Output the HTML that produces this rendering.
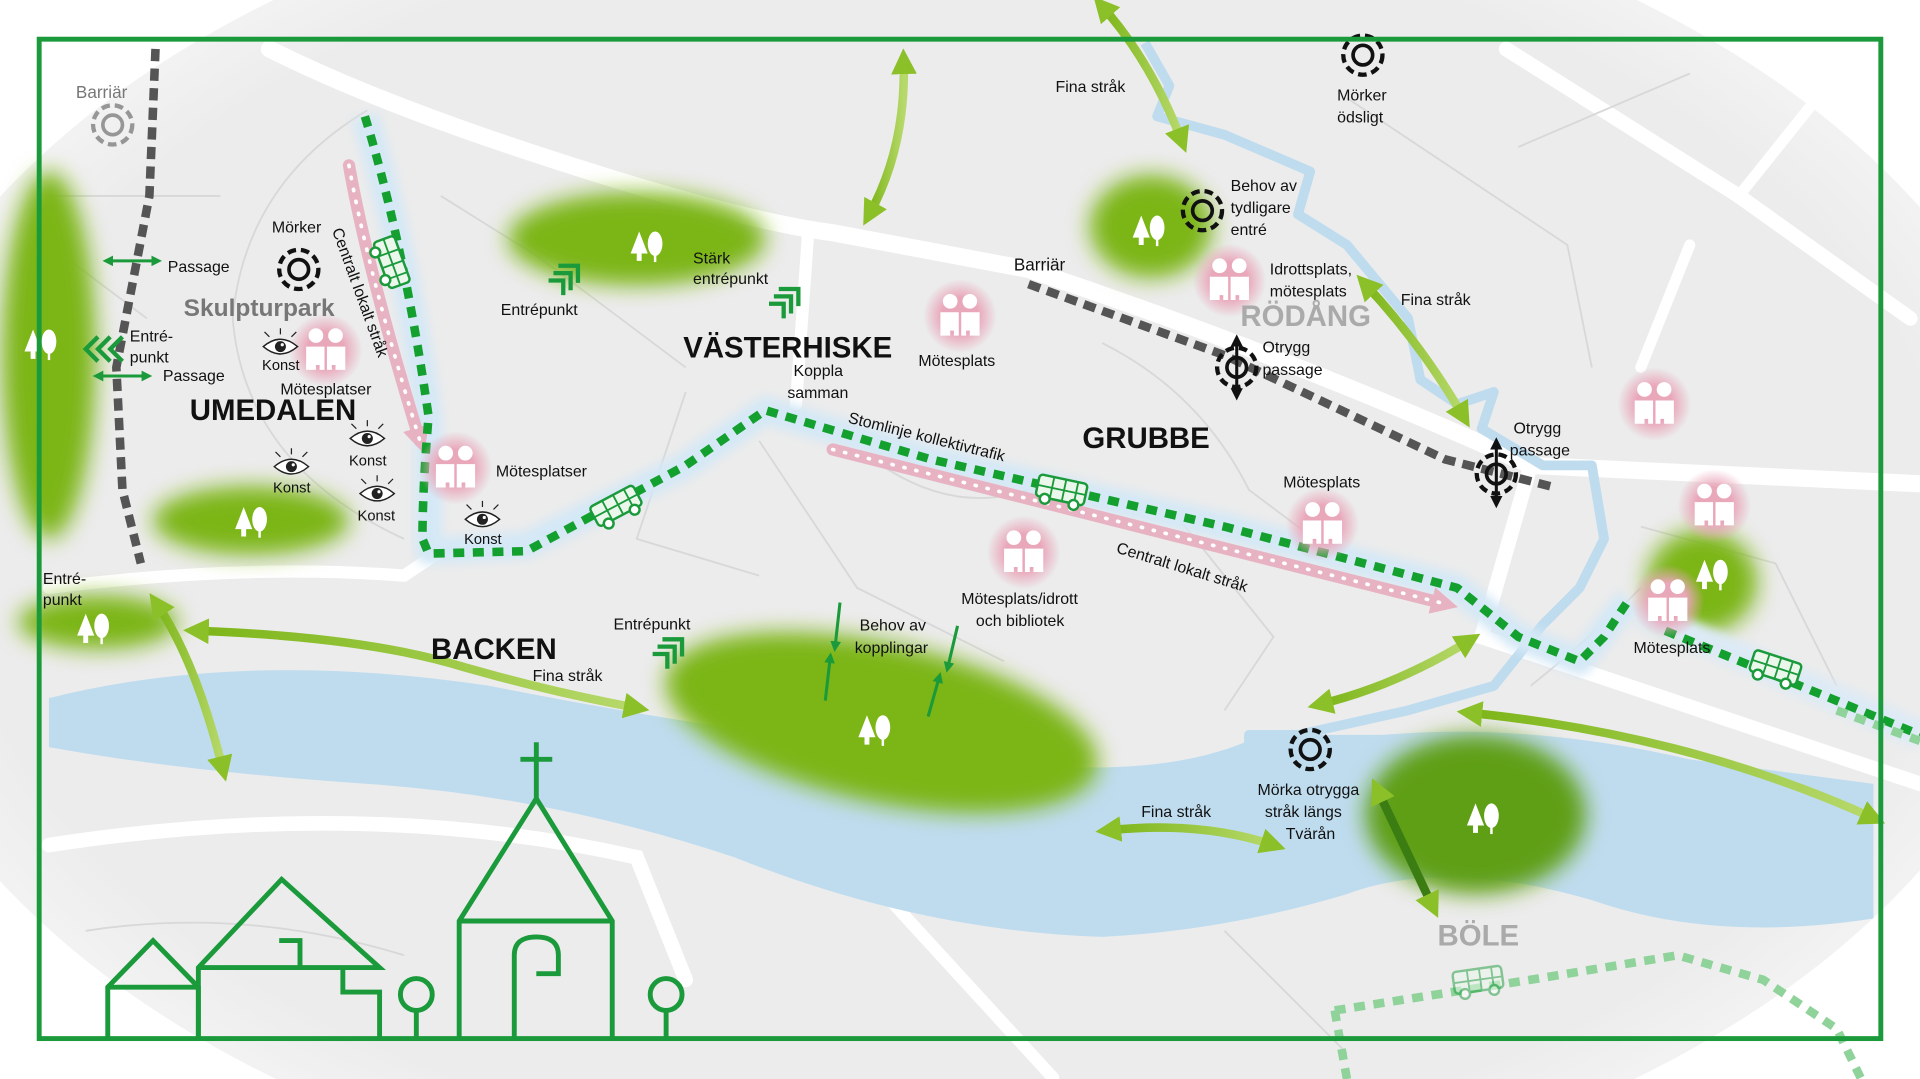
<!DOCTYPE html>
<html><head><meta charset="utf-8"><style>
html,body{margin:0;padding:0;background:#fff;overflow:hidden;width:1920px;height:1079px}
svg{display:block;position:absolute;left:0;top:0}
text{font-family:"Liberation Sans",sans-serif}
</style></head><body>
<svg width="1920" height="1079" viewBox="0 0 1568 881" preserveAspectRatio="none" xmlns="http://www.w3.org/2000/svg">
<defs>
<filter id="blur" x="-30%" y="-30%" width="160%" height="160%"><feGaussianBlur stdDeviation="9"/></filter>
<filter id="blur2" x="-30%" y="-30%" width="160%" height="160%"><feGaussianBlur stdDeviation="4"/></filter>
<radialGradient id="pink"><stop offset="0.5" stop-color="#e9a7ba"/><stop offset="1" stop-color="#e9a7ba" stop-opacity="0"/></radialGradient>
<radialGradient id="bg" cx="0.5" cy="0.5" r="0.6"><stop offset="0.75" stop-color="#ececec"/><stop offset="1" stop-color="#ffffff"/></radialGradient>
<g id="ppl"><circle r="30" fill="url(#pink)"/><circle cx="-8" cy="-12" r="6" fill="#fff"/><circle cx="8" cy="-12" r="6" fill="#fff"/><path d="M-16,-3 h15 v19 h-4 v-4 h-3 v4 h-8z M1,-3 h15 v19 h-8 v-4 h-3 v4 h-4z" fill="#fff"/></g>
<g id="eye"><path d="M-14,0 Q0,-12 14,0 Q0,12 -14,0z" fill="#fff" stroke="#222" stroke-width="1.2"/><circle r="4.5" fill="#222"/><circle cx="1.5" cy="-1.5" r="1.3" fill="#fff"/><path d="M0,-10 v-5 M-9,-8 l-4,-4 M9,-8 l4,-4" stroke="#222" stroke-width="1"/></g>
<g id="tgt"><circle r="16" fill="none" stroke="#111" stroke-width="3.5" stroke-dasharray="7 4"/><circle r="8" fill="none" stroke="#111" stroke-width="3"/></g>
<g id="tree" fill="#fff"><path d="M-8,-14 L-15,4 H-10 V10 H-6 V4 H-1z"/><ellipse cx="5" cy="-4" rx="6" ry="10"/><rect x="4" y="4" width="2" height="7"/></g>
<g id="bus"><rect x="-20" y="-9" width="40" height="18" rx="3" fill="#eaf7ea" stroke="#1a9a3a" stroke-width="2"/><path d="M-8,-9 v18 M2,-9 v18 M12,-9 v18 M-20,0 h40" stroke="#1a9a3a" stroke-width="1.5"/><circle cx="-12" cy="10" r="4" fill="#fff" stroke="#1a9a3a" stroke-width="2"/><circle cx="12" cy="10" r="4" fill="#fff" stroke="#1a9a3a" stroke-width="2"/></g>
<g id="chev" fill="none" stroke="#1a9a3a" stroke-width="3.5"><path d="M-12,-4 H0 V8 M-8,-10 H6 V4 M-4,-16 H12 V-2"/></g>
<linearGradient id="ga" x1="0" x2="1"><stop offset="0" stop-color="#7cb518"/><stop offset="1" stop-color="#b7d96b"/></linearGradient>
<marker id="ah" viewBox="0 0 10 10" refX="5" refY="5" markerWidth="3" markerHeight="3" orient="auto-start-reverse"><path d="M0,0 L10,5 L0,10z" fill="#8cc028"/></marker>
<marker id="ahd" viewBox="0 0 10 10" refX="5" refY="5" markerWidth="3.5" markerHeight="3.5" orient="auto-start-reverse"><path d="M0,0 L10,5 L0,10z" fill="#1a9a3a"/></marker>
<marker id="ahp" viewBox="0 0 10 10" refX="5" refY="5" markerWidth="2.2" markerHeight="2.2" orient="auto"><path d="M0,0 L10,5 L0,10z" fill="#e7b3c2"/></marker>
<marker id="ahb" viewBox="0 0 10 10" refX="5" refY="5" markerWidth="4" markerHeight="4" orient="auto-start-reverse"><path d="M0,0 L10,5 L0,10z" fill="#111"/></marker>
</defs>

<rect width="1568" height="881" fill="#fff"/>
<ellipse cx="780" cy="440" rx="900" ry="560" fill="url(#bg)"/>

<g fill="none" stroke="#fff" stroke-linecap="round">
<path d="M220,40 Q300,80 420,120 Q600,180 680,190 L840,220 Q1050,290 1250,380 L1568,395" stroke-width="14"/>
<path d="M1230,40 L1420,160 L1560,260" stroke-width="12"/>
<path d="M40,480 Q200,460 330,470 L360,450" stroke-width="10"/>
<path d="M660,190 L650,330" stroke-width="10"/>
<path d="M1250,380 L1210,520 L1568,640" stroke-width="12"/>
<path d="M40,690 Q300,650 520,700 L560,800" stroke-width="12"/>
<path d="M1380,200 L1340,300 M1420,160 L1500,60" stroke-width="9"/>
<path d="M640,640 L860,880" stroke-width="10"/>
</g>
<g fill="none" stroke="#d8d8d8" stroke-width="1.5">
<path d="M300,90 Q200,150 190,260 Q200,380 330,440"/><path d="M40,160 H180 M40,200 L120,260 M360,160 L440,210 L560,300"/>
<path d="M620,360 L700,480 L820,540 M720,380 Q780,420 840,400 M560,320 L520,440 L620,470"/>
<path d="M900,280 Q980,320 1020,400 L1100,460 M960,420 L1040,520 L1000,580"/>
<path d="M1100,80 L1280,200 L1300,300 M1240,120 L1380,60"/>
<path d="M1340,430 L1450,460 L1500,560 M1250,560 Q1300,520 1340,480"/>
<path d="M70,760 Q200,740 330,780 M760,700 L900,760 M1000,760 L1100,860"/>
</g>

<path d="M40,570 Q200,530 400,560 Q600,600 800,620 Q950,640 1030,600 L1130,600 Q1250,590 1380,620 L1530,640 L1530,750 Q1400,770 1300,735 Q1180,700 1100,730 Q1000,760 900,765 Q750,760 600,700 Q450,650 300,640 Q150,630 40,610z" fill="#bfdcef"/>
<g fill="none" stroke="#bfdcef" stroke-width="8" stroke-linejoin="round">
<path d="M935,35 L955,70 L945,95 L1000,110 L1070,140 L1060,175 L1100,200 L1150,260 L1160,310 L1190,330 L1220,320 L1210,350 L1260,380 L1300,380 L1310,440 L1290,480 L1260,510 L1220,560 L1150,580 L1060,600 L1020,600 L1020,640 L1050,680"/>
</g>

<g fill="#7cb518" filter="url(#blur)">
<ellipse cx="520" cy="195" rx="105" ry="38"/>
<ellipse cx="40" cy="290" rx="38" ry="150"/>
<ellipse cx="205" cy="425" rx="80" ry="28"/>
<ellipse cx="80" cy="508" rx="65" ry="22"/>
<ellipse cx="720" cy="590" rx="180" ry="65" transform="rotate(12 720 590)"/>
<ellipse cx="940" cy="185" rx="50" ry="42"/>
<ellipse cx="1390" cy="475" rx="45" ry="42"/>
<ellipse cx="1205" cy="665" rx="90" ry="65" fill="#5e9f12"/>
</g>

<g fill="none" stroke="#d4e8f6" stroke-width="22" stroke-linejoin="round" filter="url(#blur2)">
<path d="M298,95 Q330,200 350,340 L350,450 L430,445 L560,380 L625,335 L760,375 L1000,430 L1190,480 L1240,520 L1290,540 L1330,490"/>
<path d="M1340,500 L1568,600" stroke="#dceaf6"/>
</g>
<g fill="none" stroke="#e7b3c2" stroke-width="10" stroke-linecap="round">
<path d="M285,135 Q300,220 343,360" marker-end="url(#ahp)"/>
<path d="M680,367 L1180,493" marker-end="url(#ahp)"/>
<path d="M285,135 Q300,220 343,360 M680,367 L1180,493" stroke="#fff" stroke-width="3" stroke-dasharray="1 9"/>
</g>
<g fill="none" stroke="#14a02e" stroke-width="7" stroke-dasharray="9 7" stroke-linejoin="round">
<path d="M298,95 Q330,200 350,340 Q345,400 345,440 L350,452 L430,450 L560,380 L625,335 L760,375 L1000,430 L1190,480 L1240,520 L1290,540 L1310,520 L1330,490"/>
<path d="M1360,515 L1568,600" stroke="#14a02e"/>
<path d="M1500,580 L1568,605" stroke="#8fd39b"/>
<path d="M1090,825 L1250,800 L1370,780 L1440,800 L1500,840 L1520,881" stroke="#8fd39b"/>
<path d="M1090,825 L1100,881" stroke="#8fd39b"/>
</g>

<g fill="none" stroke="#555" stroke-width="7" stroke-dasharray="10 6">
<path d="M127,40 L122,160 L95,300 L100,400 L115,460"/>
<path d="M840,232 L1000,290 L1180,375 L1270,398"/>
</g>

<g fill="none" stroke="url(#ga)" stroke-width="7" stroke-linecap="round" marker-start="url(#ah)" marker-end="url(#ah)">
<path d="M738,50 Q740,120 710,175"/>
<path d="M900,5 Q940,50 965,115"/>
<path d="M1115,232 Q1160,280 1195,340"/>
<path d="M160,515 Q300,520 380,545 Q450,565 520,578"/>
<path d="M128,493 Q160,540 182,628"/>
<path d="M1200,523 Q1140,560 1078,575"/>
<path d="M905,678 Q980,670 1040,690"/>
<path d="M1200,582 Q1380,600 1530,668"/>
<path d="M1125,645 L1170,740" stroke="#3b7d12"/>
</g>
<g stroke="#1a9a3a" stroke-width="2.5" fill="none" marker-start="url(#ahd)" marker-end="url(#ahd)">
<path d="M88,213 H128"/><path d="M80,307 H120"/>
</g>
<g stroke="#1a9a3a" stroke-width="2.5" fill="none" marker-end="url(#ahd)">
<path d="M686,492 L682,528"/><path d="M674,572 L678,537"/><path d="M782,511 L774,545"/><path d="M758,585 L767,553"/>
</g>
<g fill="none" stroke="#1a9a3a" stroke-width="3.5"><path d="M80,275 l-10,10 l10,10 M90,275 l-10,10 l10,10 M100,275 l-10,10 l10,10"/></g>

<use href="#chev" x="460" y="233"/><use href="#chev" x="640" y="252"/><use href="#chev" x="545" y="538"/>

<use href="#tree" x="530" y="203"/><use href="#tree" x="35" y="283"/><use href="#tree" x="207" y="428"/><use href="#tree" x="78" y="515"/><use href="#tree" x="716" y="598"/><use href="#tree" x="940" y="190"/><use href="#tree" x="1400" y="471"/><use href="#tree" x="1213" y="670"/>

<use href="#ppl" x="266" y="286"/><use href="#ppl" x="372" y="382"/><use href="#ppl" x="784" y="258"/><use href="#ppl" x="1004" y="229"/><use href="#ppl" x="836" y="451"/><use href="#ppl" x="1080" y="428"/><use href="#ppl" x="1351" y="330"/><use href="#ppl" x="1400" y="413"/><use href="#ppl" x="1362" y="491"/>

<use href="#eye" x="229" y="283"/><use href="#eye" x="300" y="358"/><use href="#eye" x="238" y="381"/><use href="#eye" x="308" y="403"/><use href="#eye" x="394" y="424"/>

<use href="#tgt" x="244" y="220"/><use href="#tgt" x="1113" y="45"/><use href="#tgt" x="982" y="172"/><use href="#tgt" x="1070" y="612"/>
<g opacity="0.4"><use href="#tgt" x="92" y="102"/></g>
<g><use href="#tgt" x="1010" y="300"/><path d="M1010,278 V322" stroke="#111" stroke-width="2.5" marker-start="url(#ahb)" marker-end="url(#ahb)"/></g>
<g><use href="#tgt" x="1222" y="387"/><path d="M1222,362 V410" stroke="#111" stroke-width="2.5" marker-start="url(#ahb)" marker-end="url(#ahb)"/></g>

<use href="#bus" transform="translate(320,214) rotate(70)"/>
<use href="#bus" transform="translate(503,413) rotate(-28)"/>
<use href="#bus" transform="translate(867,400) rotate(12)"/>
<use href="#bus" transform="translate(1450,545) rotate(18)"/>
<g opacity="0.5"><use href="#bus" transform="translate(1207,800) rotate(-8)"/></g>

<rect x="32" y="32" width="1504" height="816" fill="none" stroke="#1a9a3a" stroke-width="4"/>

<g fill="none" stroke="#1a9a3a" stroke-width="4" stroke-linejoin="miter">
<path d="M88,848 V806 L125,768 L162,806 V848 M88,806 H162"/>
<path d="M162,848 V790 L230,718 L310,790 H162 M228,768 H245 V790 H280 V810 H310 V848"/>
<path d="M375,848 V752 L438,652 L500,752 V848 M375,752 H500 M438,652 V606 M425,620 H451"/>
<path d="M420,848 V780 Q420,765 438,765 Q456,765 456,780 V795 H438"/>
<circle cx="340" cy="812" r="13"/><path d="M340,825 V848"/>
<circle cx="544" cy="812" r="13"/><path d="M544,825 V848"/>
</g>

<g font-size="13" fill="#111">
<text x="62" y="80" fill="#777" font-size="14">Barriär</text>
<text x="222" y="190">Mörker</text>
<text x="137" y="222">Passage</text>
<text x="133" y="311">Passage</text>
<text x="106" y="279">Entré-</text><text x="106" y="296">punkt</text>
<text x="214" y="302" font-size="12">Konst</text>
<text x="229" y="322">Mötesplatser</text>
<text x="285" y="380" font-size="12">Konst</text>
<text x="223" y="402" font-size="12">Konst</text>
<text x="292" y="425" font-size="12">Konst</text>
<text x="379" y="444" font-size="12">Konst</text>
<text x="405" y="389">Mötesplatser</text>
<text x="35" y="477">Entré-</text><text x="35" y="494">punkt</text>
<text x="409" y="257">Entrépunkt</text>
<text x="566" y="215">Stärk</text><text x="566" y="232">entrépunkt</text>
<text x="648" y="307">Koppla</text><text x="643" y="325">samman</text>
<text x="750" y="299">Mötesplats</text>
<text x="862" y="75">Fina stråk</text>
<text x="1092" y="82">Mörker</text><text x="1092" y="100">ödsligt</text>
<text x="1005" y="156">Behov av</text><text x="1005" y="174">tydligare</text><text x="1005" y="192">entré</text>
<text x="1037" y="224">Idrottsplats,</text><text x="1037" y="242">mötesplats</text>
<text x="1144" y="249">Fina stråk</text>
<text x="828" y="221" font-size="14">Barriär</text>
<text x="1031" y="288">Otrygg</text><text x="1031" y="306">passage</text>
<text x="1236" y="354">Otrygg</text><text x="1233" y="372">passage</text>
<text x="1048" y="398">Mötesplats</text>
<text x="785" y="493">Mötesplats/idrott</text><text x="797" y="511">och bibliotek</text>
<text x="1334" y="533">Mötesplats</text>
<text x="501" y="514">Entrépunkt</text>
<text x="435" y="556">Fina stråk</text>
<text x="702" y="515">Behov av</text><text x="698" y="533">kopplingar</text>
<text x="932" y="667">Fina stråk</text>
<text x="1027" y="649">Mörka otrygga</text><text x="1033" y="667">stråk längs</text><text x="1050" y="685">Tvärån</text>
<text transform="translate(692,345) rotate(14)">Stomlinje kollektivtrafik</text>
<text transform="translate(911,451) rotate(17)">Centralt lokalt stråk</text>
<text transform="translate(271,188) rotate(70)">Centralt lokalt stråk</text>
</g>
<g font-weight="bold" font-size="24" fill="#111">
<text x="155" y="343">UMEDALEN</text>
<text x="558" y="292">VÄSTERHISKE</text>
<text x="884" y="366">GRUBBE</text>
<text x="352" y="538">BACKEN</text>
<text x="1013" y="266" fill="#aaa">RÖDÅNG</text>
<text x="1174" y="772" fill="#aaa">BÖLE</text>
<text x="150" y="258" fill="#777" font-size="20">Skulpturpark</text>
</g>
</svg>
</body></html>
